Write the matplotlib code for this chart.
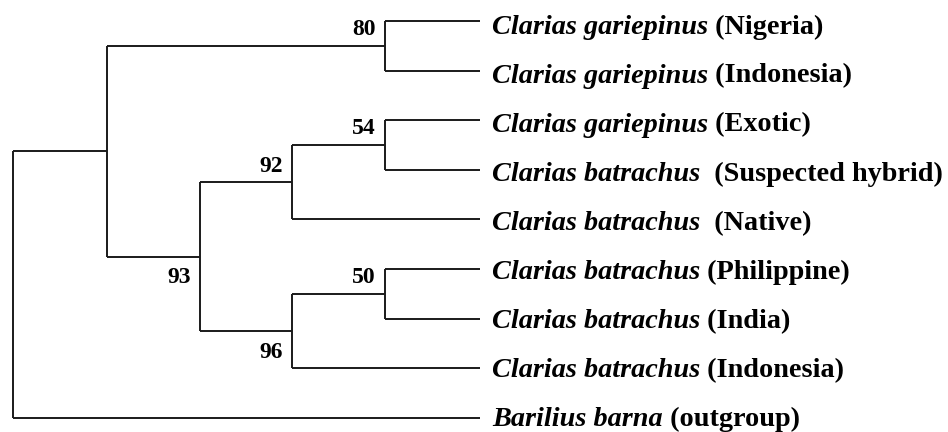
import matplotlib
matplotlib.use("Agg")
import matplotlib.pyplot as plt

# ---------------- data ----------------
leaf_species = ["Clarias gariepinus", "Clarias gariepinus", "Clarias gariepinus",
                "Clarias batrachus", "Clarias batrachus", "Clarias batrachus",
                "Clarias batrachus", "Clarias batrachus", "Barilius barna"]
leaf_regions = ["(Nigeria)", "(Indonesia)", "(Exotic)", "(Suspected hybrid)", "(Native)",
                "(Philippine)", "(India)", "(Indonesia)", "(outgroup)"]
leaf_seps = [" ", " ", " ", "  ", "  ", " ", " ", " ", " "]

# internal nodes: name -> (depth, children, bootstrap, label side)
leaf_depth = 480
nodes = {
    "root": (13, ["A", 8], None, None),
    "A":    (107, ["n80", "n93"], None, None),
    "n80":  (385, [0, 1], 80, "above"),
    "n93":  (200, ["n92", "n96"], 93, "below"),
    "n92":  (292, ["n54", 4], 92, "above"),
    "n54":  (385, [2, 3], 54, "above"),
    "n96":  (292, ["n50", 7], 96, "below"),
    "n50":  (385, [5, 6], 50, "above"),
}

# ---------------- figure ----------------
W, H, DPI = 948, 432, 100
fig = plt.figure(figsize=(W / DPI, H / DPI), dpi=DPI)
ax = fig.add_axes([0, 0, 1, 1])
ax.set_axis_off()
top_px, step_px = 21, 49.6
ax.set_xlim(0, W)
ax.set_ylim((H - top_px) / step_px, -top_px / step_px)

LW = 1.4
COL = "#1a1a1a"
FONT = "Liberation Serif"


def ypos(n):
    if isinstance(n, int):
        return float(n)
    ch = nodes[n][1]
    return sum(ypos(c) for c in ch) / len(ch)


def depth(n):
    return leaf_depth if isinstance(n, int) else nodes[n][0]


for name, (d, children, bs, side) in nodes.items():
    ys = [ypos(c) for c in children]
    ax.plot([d, d], [min(ys), max(ys)], color=COL, lw=LW, solid_capstyle="butt")
    for c, yc in zip(children, ys):
        ax.plot([d, depth(c)], [yc, yc], color=COL, lw=LW, solid_capstyle="butt")
    if bs is not None:
        dy = 16 if side == "above" else -21
        ax.annotate(str(bs), xy=(d, ypos(name)), xytext=(-9, dy),
                    textcoords="offset pixels", ha="right", va="center",
                    fontsize=17, fontweight="bold", family=FONT, color="black")

n = len(leaf_species)
for i, (sp, reg, sep) in enumerate(zip(leaf_species, leaf_regions, leaf_seps)):
    base_off = -(12.5 - 4.5 * i / (n - 1))
    t1 = ax.annotate(sp, xy=(leaf_depth, i), xytext=(12, base_off),
                     textcoords="offset pixels", ha="left", va="baseline",
                     fontsize=20.3, fontweight="bold", fontstyle="italic",
                     family=FONT, color="black")
    ax.annotate(sep + reg, xy=(1, 0), xycoords=t1, ha="left", va="bottom",
                fontsize=20.3, fontweight="bold", family=FONT, color="black")

fig.savefig("out.png", dpi=DPI)
